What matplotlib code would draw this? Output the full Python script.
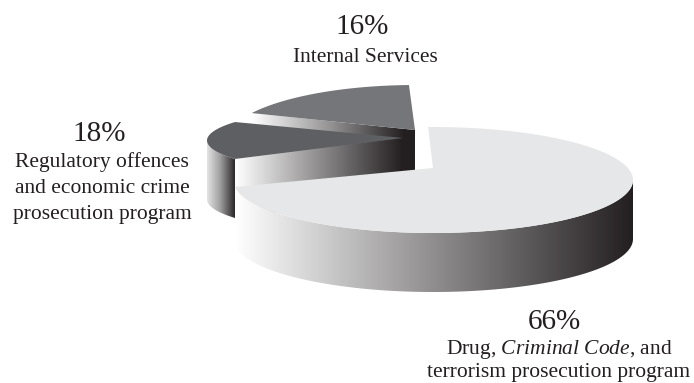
import matplotlib
matplotlib.use("Agg")
import matplotlib.pyplot as plt
from matplotlib.colors import LinearSegmentedColormap
from matplotlib.patches import Polygon
import numpy as np

# 円グラフのデータ
categories = ["Drug, $\\mathit{Criminal\\ Code}$, and\nterrorism prosecution program",
              "Regulatory offences\nand economic crime\nprosecution program",
              "Internal Services"]
shares = [66, 18, 16]

plt.rcParams['font.family'] = ['Liberation Serif', 'DejaVu Serif']
plt.rcParams['mathtext.fontset'] = 'custom'
plt.rcParams['mathtext.rm'] = 'Liberation Serif'
plt.rcParams['mathtext.it'] = 'Liberation Serif:italic'

LIGHT = "#e6e7e8"
MID = "#75767a"
DARK = "#5e5f62"
BLACK = "#231f20"
DEPTH = 59


def arc(cx, cy, a, b, t0, t1):
    t = np.radians(np.linspace(t0, t1, 120))
    return np.column_stack([cx + a * np.cos(t), cy - b * np.sin(t)])


def extrude(points):
    # 上面の弧を下に押し出して側面にする
    return np.vstack([points, (points + [0, DEPTH])[::-1]])


def gradient(ax, points, colors):
    cmap = LinearSegmentedColormap.from_list("side", colors)
    x0, x1 = points[:, 0].min(), points[:, 0].max()
    y0, y1 = points[:, 1].min(), points[:, 1].max()
    im = ax.imshow(np.linspace(0, 1, 256).reshape(1, -1), cmap=cmap, aspect="auto",
                   extent=(x0, x1, y1, y0), interpolation="bilinear", zorder=2)
    clip = Polygon(points, closed=True, transform=ax.transData)
    im.set_clip_path(clip)


def top(ax, points, color):
    ax.add_patch(Polygon(points, closed=True, facecolor=color, edgecolor="none", zorder=2))


fig = plt.figure(figsize=(6.94, 3.83), dpi=100)
ax = fig.add_axes([0, 0, 1, 1])
ax.set_xlim(0, 694)
ax.set_ylim(383, 0)
ax.axis("off")
ax.set_autoscale_on(False)

# 16% : 奥のスライス
span = shares[2] * 3.6
apex = np.array([[415, 130]])
rim = arc(415.6, 141.8, 190, 56.8, 92, 92 + span)
face = np.vstack([rim[-1:], apex])
gradient(ax, extrude(face), [(0, "#ffffff"), (0.5, "#8f8d8e"), (0.93, BLACK), (1, BLACK)])
top(ax, np.vstack([apex, rim]), MID)

# 18% : 左のスライス
span = shares[1] * 3.6
apex = np.array([[403, 138]])
rim = arc(387, 140.5, 180, 34.5, 180 - span / 2, 180 + span / 2)
outer = rim[len(rim) // 2:]
gradient(ax, extrude(outer), [(0, "#e4e4e4"), (0.45, "#a0a0a0"), (1, BLACK)])
gradient(ax, extrude(np.vstack([rim[-1:], apex])), ["#ffffff", "#8f8d8e", BLACK])
top(ax, np.vstack([apex, rim]), DARK)

# 66% : 手前のスライス(絵の上では少し広く描かれている)
sweep = 263.8 / (shares[0] * 3.6)
apex = np.array([[433, 168]])
rim = arc(433, 180, 200, 53, 91.4, 91.4 - shares[0] * 3.6 * sweep)
near = arc(433, 180, 200, 53, 360, 187.6)
gradient(ax, extrude(near), ["#ffffff", "#8f8d8e", BLACK])
top(ax, np.vstack([apex, rim]), LIGHT)

# ラベル
ax.text(362, 27, "%d%%" % shares[2], fontsize=21, ha="center", va="center", color=BLACK)
ax.text(365, 57, categories[2], fontsize=15.4, ha="center", va="center", color=BLACK)
ax.text(99, 134, "%d%%" % shares[1], fontsize=21, ha="center", va="center", color=BLACK)
ax.text(102, 188, categories[1], fontsize=15.5, ha="center", va="center", color=BLACK, linespacing=1.47)
ax.text(554, 322, "%d%%" % shares[0], fontsize=21, ha="center", va="center", color=BLACK)
ax.text(559, 360, categories[0], fontsize=15.5, ha="center", va="center", color=BLACK, linespacing=1.15)

fig.savefig("out.png", dpi=100)
